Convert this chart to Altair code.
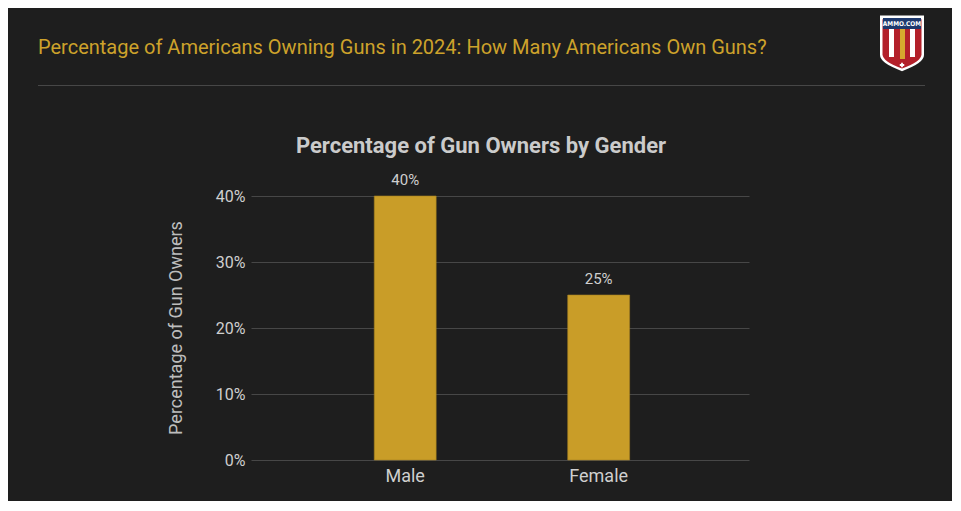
import altair as alt
import pandas as pd

categories = ["Male", "Female"]
shares = [0.40, 0.25]
y_ticks = [0, 0.1, 0.2, 0.3, 0.4]

headline = "Percentage of Americans Owning Guns in 2024: How Many Americans Own Guns?"
chart_title = "Percentage of Gun Owners by Gender"
y_title = "Percentage of Gun Owners"

df = pd.DataFrame({"gender": categories, "share": shares})
one = pd.DataFrame({"k": [0]})

W, H = 498, 264
PADL, PADT = 243, 188
TOTW, TOTH = 944, 493
FONT = "Roboto"
GOLD = "#c99d28"

x_enc = alt.X(
    "gender:N",
    sort=categories,
    scale=alt.Scale(paddingInner=0.68, paddingOuter=0.627, align=0.508),
    axis=alt.Axis(
        title=None, labelAngle=0, labelFontSize=18, labelColor="#cfcfcf",
        labelFont=FONT, labelPadding=7, ticks=False, domain=False, grid=False,
    ),
)
y_enc = alt.Y(
    "share:Q",
    scale=alt.Scale(domain=[0, 0.4], nice=False),
    axis=alt.Axis(
        title=None, format=".0%", values=y_ticks, labelFontSize=16,
        labelColor="#cfcfcf", labelFont=FONT, labelPadding=6, ticks=False,
        domain=False, grid=True, gridColor="#474747", gridWidth=1,
    ),
)

bars = alt.Chart(df).mark_bar(color=GOLD, stroke="#a5801f", strokeWidth=0.6).encode(
    x=x_enc, y=y_enc
)
labels = alt.Chart(df).mark_text(
    baseline="bottom", dy=-8, fontSize=15, color="#cfcfcf", font=FONT
).encode(x=x_enc, y=y_enc, text=alt.Text("share:Q", format=".0%"))

head = alt.Chart(one).mark_text(
    align="left", baseline="middle", fontSize=20, color="#cda22b", font=FONT
).encode(x=alt.value(38 - 251), y=alt.value(48 - 196), text=alt.value(headline))

sep = alt.Chart(one).mark_rule(color="#474747", strokeWidth=1).encode(
    x=alt.value(38 - 251), x2=alt.value(925 - 251), y=alt.value(85.5 - 196)
)

ctitle = alt.Chart(one).mark_text(
    align="center", baseline="middle", fontSize=22, fontWeight="bold",
    color="#cbcbcb", font=FONT
).encode(x=alt.value(481 - 251), y=alt.value(146 - 196), text=alt.value(chart_title))

ytitle = alt.Chart(one).mark_text(
    align="center", baseline="middle", fontSize=18, color="#bdbdbd",
    font=FONT, angle=270
).encode(x=alt.value(177 - 251), y=alt.value(H / 2), text=alt.value(y_title))

# logo (shield)
shield_path = "M-1,-1.25 L1,-1.25 L1,0.55 Q1,0.92 0,1.28 Q-1,0.92 -1,0.55 Z"
lx, ly = 902 - 251, 43 - 196
shield_w = alt.Chart(one).mark_point(
    shape=shield_path, filled=True, fill="#ffffff", opacity=1, size=44 * 44, strokeWidth=0
).encode(x=alt.value(lx), y=alt.value(ly))
shield_r = alt.Chart(one).mark_point(
    shape=shield_path, filled=True, fill="#b3202a", opacity=1, size=39 * 39, strokeWidth=0
).encode(x=alt.value(lx), y=alt.value(ly + 0.5))
stripe1 = alt.Chart(one).mark_rect(color="#ffffff").encode(
    x=alt.value(lx - 13), x2=alt.value(lx - 8), y=alt.value(ly - 14), y2=alt.value(ly + 14)
)
stripe2 = alt.Chart(one).mark_rect(color="#ffffff").encode(
    x=alt.value(lx + 8), x2=alt.value(lx + 13), y=alt.value(ly - 14), y2=alt.value(ly + 14)
)
center_bar = alt.Chart(one).mark_rect(color="#d6a92e").encode(
    x=alt.value(lx - 2), x2=alt.value(lx + 3), y=alt.value(ly - 14), y2=alt.value(ly + 16)
)
blue = alt.Chart(one).mark_rect(color="#1f3a6e").encode(
    x=alt.value(lx - 19), x2=alt.value(lx + 19), y=alt.value(ly - 25), y2=alt.value(ly - 14)
)
ammo = alt.Chart(one).mark_text(
    fontSize=6.5, fontWeight="bold", color="#ffffff", font="DejaVu Sans Condensed",
    baseline="middle", align="center"
).encode(x=alt.value(lx), y=alt.value(ly - 19.5), text=alt.value("AMMO.COM"))
star = alt.Chart(one).mark_point(
    shape="cross", filled=True, fill="#ffffff", size=20, opacity=1, strokeWidth=0
).encode(x=alt.value(lx), y=alt.value(ly + 22))

chart = alt.layer(
    bars, labels, head, sep, ctitle, ytitle,
    shield_w, shield_r, stripe1, stripe2, center_bar, blue, ammo, star,
).properties(
    width=W, height=H,
    padding={"left": PADL, "top": PADT, "right": TOTW - PADL - W, "bottom": TOTH - PADT - H},
    autosize=alt.AutoSizeParams(type="none"),
    background="#1e1e1e",
).configure_view(stroke=None).configure_axis(labelFont=FONT)

chart.save("out.html", embed_options={"renderer": "svg", "actions": False})
